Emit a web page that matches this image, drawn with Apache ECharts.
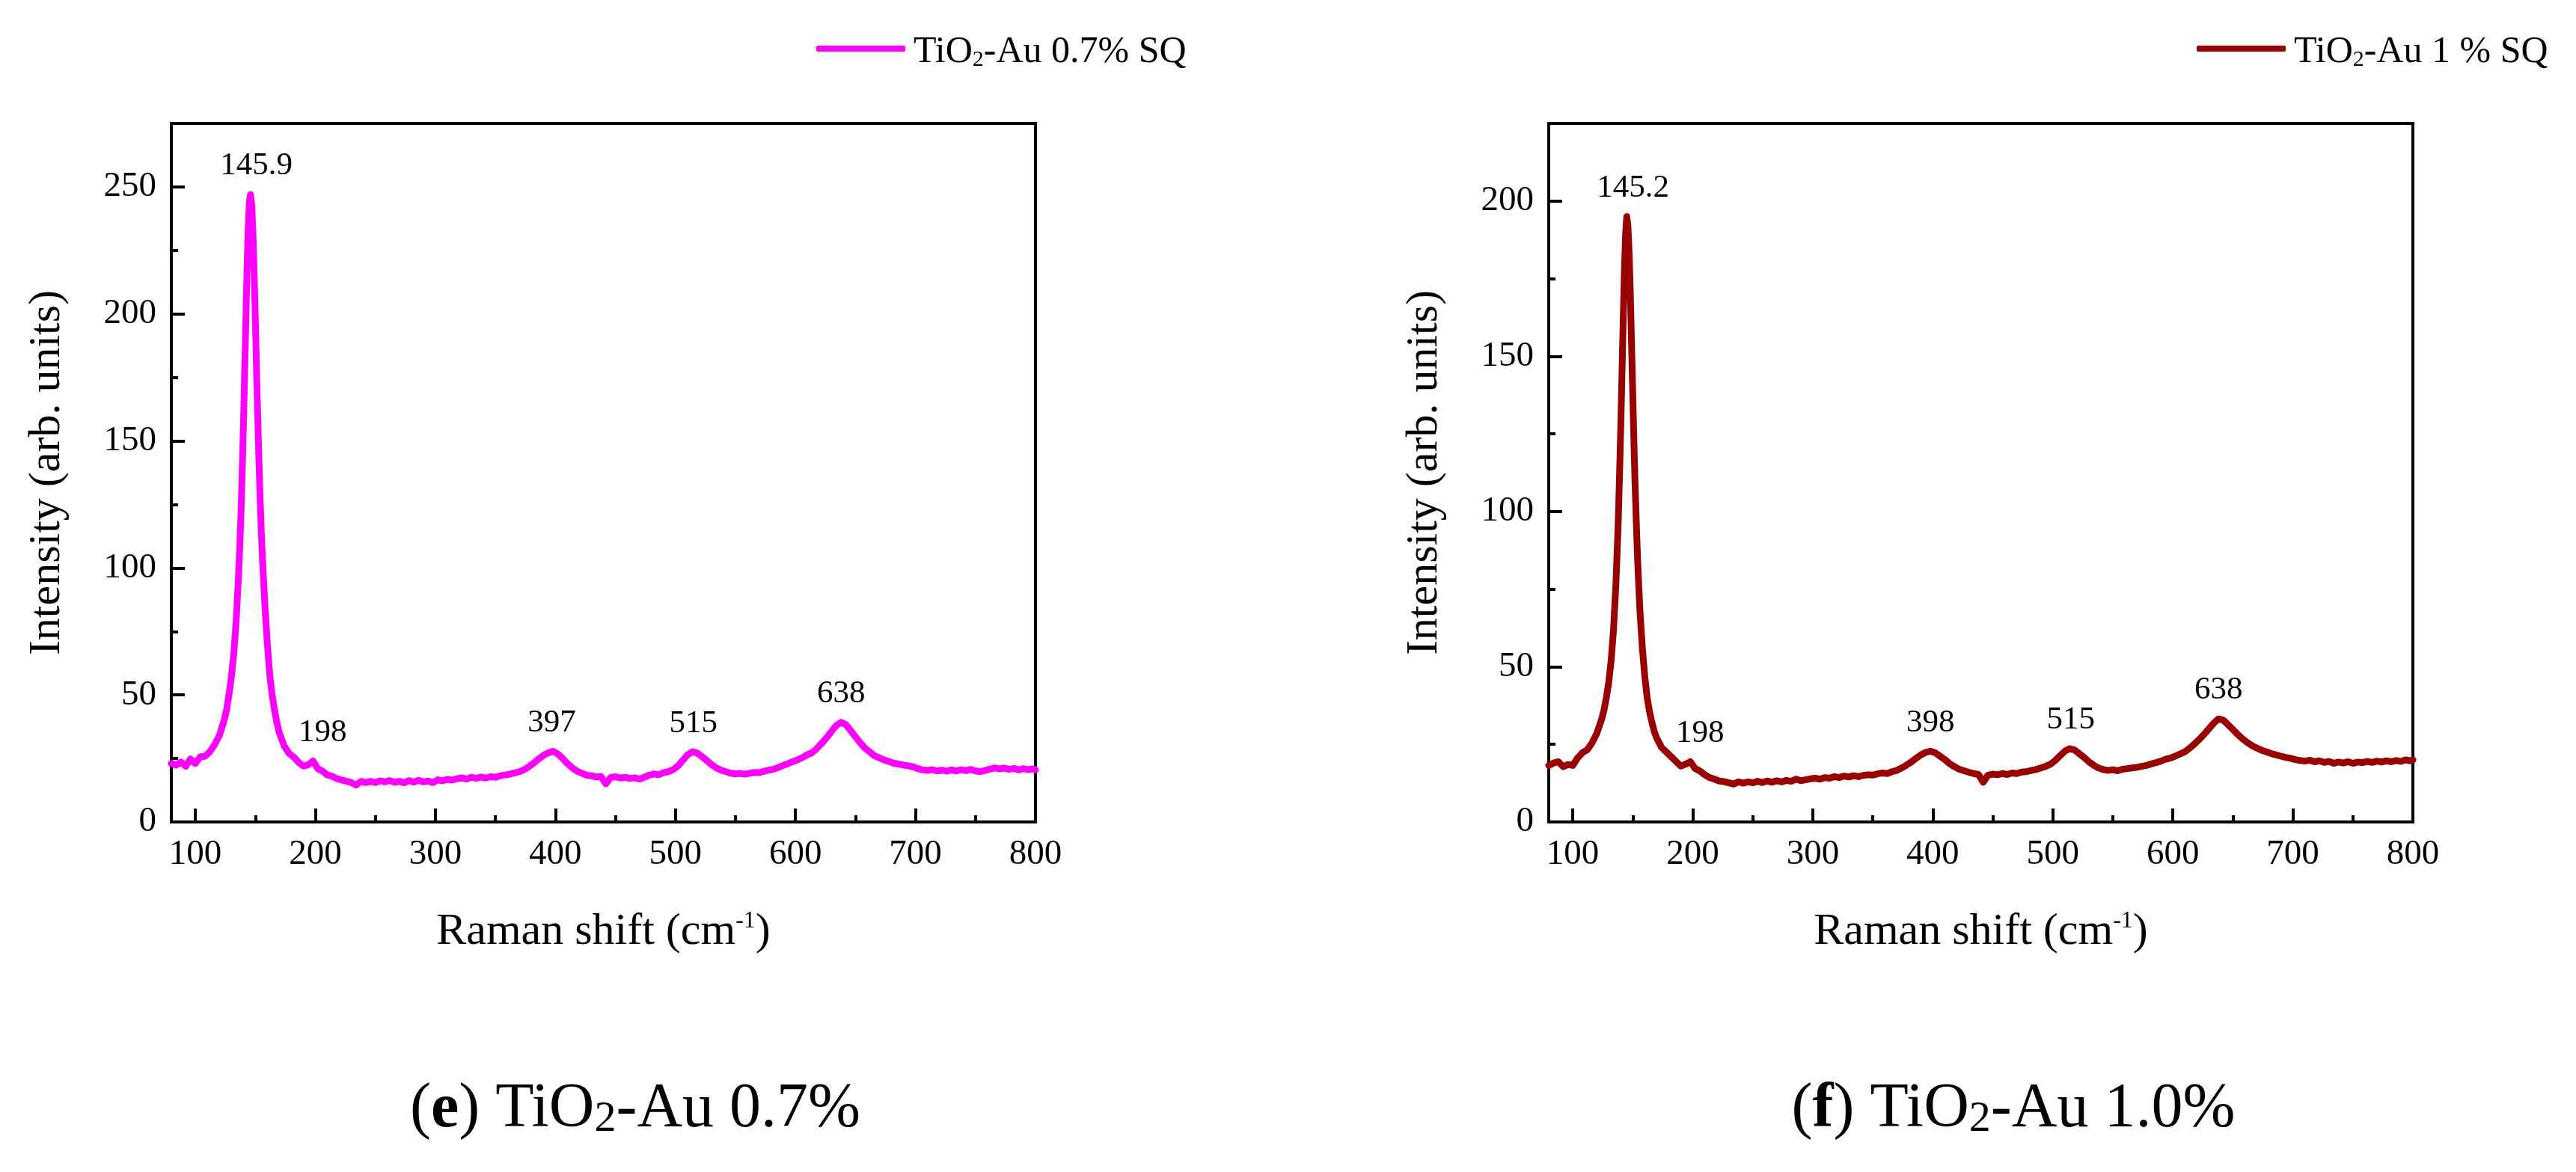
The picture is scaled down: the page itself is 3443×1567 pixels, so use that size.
<!DOCTYPE html>
<html>
<head>
<meta charset="utf-8">
<script src="https://cdn.jsdelivr.net/npm/echarts@6/dist/echarts.min.js"></script>
<style>html,body{margin:0;padding:0;background:#fff}#c{width:3443px;height:1567px}</style>
</head>
<body>
<div id="c"></div>
<script>
// Raman spectrum (e) TiO2-Au 0.7% SQ : [Raman shift, intensity]
const spectrumE = [
[80,23],[84,22.4],[88,23.6],[92,21.9],[96,24.8],[100,23],[104,25.6],[108,25.9],[112,27.6],[116,30.4],[120,34],[124,40],
[126,44],[128,50],[130,57],[132,66],[134,79],[136,97],[137,108],[138,121],[139,137],[140,155],[141,175],[142,196],[143,216],
[144,233],[145,244],[146,247],[147,243],[148,232],[149,216],[150,198],[151,178],[152,159],[153,142],[154,127],[155,114],
[156,103],[158,85],[160,70],[162,58],[164,50],[166,44],[168,39],[170,35],[174,30],[178,27],[182,25.5],[186,23.5],[190,22],
[194,22.5],[198,24],[202,21],[206,20],[210,18.5],[214,18],[218,17],[222,16.5],[226,16],[230,15.5],[234,14.5],[238,16],
[242,15.5],[246,16],[250,15.5],[254,16.2],[258,15.8],[262,16.3],[266,15.6],[270,16],[274,15.4],[278,16.3],[282,15.7],
[286,16.4],[290,15.8],[294,16.1],[298,15.5],[302,16.6],[306,16.2],[310,16.8],[314,16.5],[318,17],[322,17.4],[326,16.9],
[330,17.6],[334,17.2],[338,17.7],[342,17.3],[346,17.8],[350,17.6],[354,18.2],[358,18.5],[362,18.8],[366,19.3],[370,19.8],
[374,20.6],[378,21.8],[382,23.2],[386,24.8],[390,26.2],[394,27.2],[398,27.8],[402,26.8],[406,25],[410,23],[414,21.3],
[418,20],[422,19.2],[426,18.4],[430,18.2],[434,17.7],[438,17.9],[442,15],[446,17.5],[450,17.8],[454,17.3],[458,17.6],
[462,17.1],[466,17.4],[470,16.9],[474,17.6],[478,18.4],[482,18.9],[486,18.6],[490,19.4],[494,19.8],[498,20.6],[502,22],
[506,24.2],[510,26.4],[514,27.6],[518,27.2],[522,25.8],[526,24.2],[530,22.6],[534,21.3],[538,20.4],[542,19.8],[546,19.2],
[550,18.9],[554,19.1],[558,18.8],[562,19.2],[566,19.5],[570,19.4],[574,20],[578,20.4],[582,20.8],[586,21.5],[590,22.3],
[594,23],[598,23.8],[602,24.5],[606,25.4],[610,26.5],[614,27.3],[618,29],[622,31],[626,33.2],[630,35.6],[634,38],
[638,39.2],[642,38.3],[646,36],[650,33.5],[654,31.2],[658,29],[662,27.5],[666,26],[670,25.2],[674,24.4],[678,23.8],
[682,23.1],[686,22.8],[690,22.4],[694,22.1],[698,21.7],[702,21],[706,20.5],[710,20.3],[714,20.6],[718,20.1],[722,20.4],
[726,20],[730,20.5],[734,20.1],[738,20.6],[742,20.2],[746,20.7],[750,20.1],[754,19.8],[758,20.3],[762,20.8],[766,21.3],
[770,20.9],[774,21.2],[778,20.7],[782,21.1],[786,20.5],[790,21],[794,20.6],[798,20.9],[800,20.5]
];
// Raman spectrum (f) TiO2-Au 1 % SQ
const spectrumF = [
[80,18.2],[84,19],[88,19.4],[92,17.8],[96,18.5],[100,18.2],[104,20.6],[108,22.3],[112,23.2],[116,25.4],[120,28.5],[124,33],
[126,36],[128,40],[130,45],[132,52],[134,62],[136,77],[137,87],[138,98],[139,112],[140,127],[141,144],[142,161],[143,177],
[144,189],[145,195],[146,192],[147,183],[148,170],[149,154],[150,138],[151,122],[152,108],[153,96],[154,85],[155,76],
[156,68],[158,56],[160,47],[162,40],[164,35.5],[166,32],[168,29],[170,27],[174,24],[178,22.5],[182,21],[186,19.5],[190,18],
[194,18.6],[198,19.4],[202,17.2],[206,16.4],[210,15.2],[214,14.3],[218,13.8],[222,13.2],[226,13],[230,12.6],[234,12.2],
[238,12.9],[242,12.5],[246,12.9],[250,12.6],[254,13.1],[258,12.7],[262,13.2],[266,12.8],[270,13.3],[274,12.9],[278,13.4],
[282,13.1],[286,13.8],[290,13.3],[294,13.6],[298,13.9],[302,14.1],[306,13.8],[310,14.3],[314,14.1],[318,14.6],[322,14.3],
[326,14.8],[330,14.5],[334,14.9],[338,14.6],[342,15],[346,15.2],[350,15.1],[354,15.5],[358,15.8],[362,15.6],[366,16.2],
[370,16.6],[374,17.4],[378,18.3],[382,19.3],[386,20.5],[390,21.6],[394,22.4],[398,22.8],[402,22.3],[406,21.2],[410,20.1],
[414,18.8],[418,17.8],[422,17],[426,16.5],[430,16],[434,15.6],[438,15.3],[442,12.8],[446,15.1],[450,15.4],[454,15.2],
[458,15.6],[462,15.3],[466,15.8],[470,15.6],[474,16.1],[478,16.2],[482,16.6],[486,16.9],[490,17.4],[494,17.9],[498,18.6],
[502,19.8],[506,21.3],[510,22.8],[514,23.6],[518,23.2],[522,22],[526,20.8],[530,19.4],[534,18.3],[538,17.4],[542,16.9],
[546,16.6],[550,16.8],[554,16.5],[558,17],[562,17.2],[566,17.4],[570,17.6],[574,17.9],[578,18.2],[582,18.7],[586,19.1],
[590,19.6],[594,20.2],[598,20.6],[602,21.2],[606,21.9],[610,22.6],[614,23.8],[618,25.1],[622,26.6],[626,28.2],[630,30],
[634,31.8],[638,33.2],[642,32.8],[646,31.3],[650,29.8],[654,28.2],[658,26.8],[662,25.6],[666,24.6],[670,23.8],[674,23.1],
[678,22.6],[682,22],[686,21.6],[690,21.2],[694,20.8],[698,20.5],[702,20.1],[706,19.8],[710,19.6],[714,19.9],[718,19.4],
[722,19.7],[726,19.2],[730,19.5],[734,18.9],[738,19.3],[742,19],[746,19.4],[750,18.9],[754,19.3],[758,19.1],[762,19.5],
[766,19.2],[770,19.6],[774,19.3],[778,19.7],[782,19.4],[786,19.8],[790,19.5],[794,20],[798,19.7],[800,20]
];
const peaksE = [145.9, 198, 397, 515, 638];
const peakTextE = ['145.9', '198', '397', '515', '638'];
const peaksF = [145.2, 198, 398, 515, 638];
const peakTextF = ['145.2', '198', '398', '515', '638'];
const xTicks = [100, 200, 300, 400, 500, 600, 700, 800];
const xMinorTicks = [150, 250, 350, 450, 550, 650, 750];
const yTicksE = [0, 50, 100, 150, 200, 250];
const yMinorE = [25, 75, 125, 175, 225];
const yTicksF = [0, 50, 100, 150, 200];
const yMinorF = [25, 75, 125, 175];
const nameE = 'TiO2-Au 0.7% SQ';
const nameF = 'TiO2-Au 1 % SQ';

const FONT = 'Liberation Serif';
const BLACK = '#000';

function peakPoints(spec, peaks) {
  return peaks.map(function (px) {
    let best = -Infinity;
    spec.forEach(function (d) { if (Math.abs(d[0] - px) <= 3 && d[1] > best) best = d[1]; });
    return [px, best];
  });
}

function xAxes(gi) {
  return [{
    gridIndex: gi, type: 'value', min: 80, max: 800, position: 'bottom',
    axisLine: { show: true, lineStyle: { color: BLACK, width: 4 } },
    axisTick: { show: true, inside: true, length: 18, lineStyle: { color: BLACK, width: 4 }, customValues: xTicks },
    axisLabel: { show: true, customValues: xTicks, fontSize: 47, fontFamily: FONT, color: BLACK, margin: 20 },
    splitLine: { show: false },
    name: '{a|Raman shift (cm}{s|-1}{a|)}',
    nameLocation: 'middle', nameGap: 117,
    nameTextStyle: {
      fontFamily: FONT, fontSize: 60, color: BLACK,
      rich: {
        a: { fontFamily: FONT, fontSize: 60, color: BLACK, lineHeight: 70, verticalAlign: 'top' },
        s: { fontFamily: FONT, fontSize: 32, color: BLACK, lineHeight: 46, verticalAlign: 'top' }
      }
    }
  }, {
    gridIndex: gi, type: 'value', min: 80, max: 800, position: 'bottom',
    axisLine: { show: false },
    axisTick: { show: true, inside: true, length: 9, lineStyle: { color: BLACK, width: 4 }, customValues: xMinorTicks },
    axisLabel: { show: false },
    splitLine: { show: false }
  }];
}

function yAxes(gi, yMax, ticks, minors) {
  return [{
    gridIndex: gi, type: 'value', min: 0, max: yMax, position: 'left',
    axisLine: { show: true, lineStyle: { color: BLACK, width: 4 } },
    axisTick: { show: true, inside: true, length: 18, lineStyle: { color: BLACK, width: 4 }, customValues: ticks },
    axisLabel: { show: true, customValues: ticks, fontSize: 47, fontFamily: FONT, color: BLACK, margin: 20 },
    splitLine: { show: false },
    name: 'Intensity (arb. units)',
    nameLocation: 'middle', nameGap: 136, nameRotate: 90,
    nameTextStyle: { fontFamily: FONT, fontSize: 60, color: BLACK }
  }, {
    gridIndex: gi, type: 'value', min: 0, max: yMax, position: 'left',
    axisLine: { show: false },
    axisTick: { show: true, inside: true, length: 9, lineStyle: { color: BLACK, width: 4 }, customValues: minors },
    axisLabel: { show: false },
    splitLine: { show: false }
  }];
}

function lineSeries(name, data, color, axisIdx) {
  return {
    type: 'line', name: name, data: data, xAxisIndex: axisIdx, yAxisIndex: axisIdx,
    symbol: 'none', showSymbol: false, smooth: false, animation: false, z: 3,
    lineStyle: { width: 9, color: color, cap: 'round', join: 'round' },
    itemStyle: { color: color }
  };
}

function labelSeries(spec, peaks, texts, axisIdx) {
  const nudge = { '145.9': 8, '145.2': 8, '198': 13 };
  const labelStyle = { show: true, position: 'top', distance: 16, fontFamily: FONT, fontSize: 43, color: BLACK, opacity: 1 };
  return {
    type: 'scatter', xAxisIndex: axisIdx, yAxisIndex: axisIdx, silent: true, animation: false, z: 4,
    symbolSize: 1, itemStyle: { color: 'rgba(255,255,255,0)' },
    data: peakPoints(spec, peaks).map(function (p, i) {
      return { value: p, label: Object.assign({}, labelStyle, { offset: [nudge[texts[i]] || 0, 0] }) };
    }),
    label: Object.assign({}, labelStyle, {
      formatter: function (p) { return texts[p.dataIndex]; }
    })
  };
}

function legendFor(name, left, color) {
  const rest = name.replace('TiO2', '');
  return {
    data: [name], left: left, top: 40, orient: 'horizontal',
    icon: 'roundRect', itemWidth: 119, itemHeight: 8, selectedMode: false,
    itemStyle: { color: color, borderWidth: 0 },
    formatter: function () { return '{n|TiO}{s|2}{n|' + rest + '}'; },
    textStyle: {
      fontFamily: FONT, fontSize: 50, color: BLACK, padding: [0, 0, 0, 6],
      rich: {
        n: { fontFamily: FONT, fontSize: 50, color: BLACK, lineHeight: 60, verticalAlign: 'bottom' },
        s: { fontFamily: FONT, fontSize: 30, color: BLACK, lineHeight: 18, verticalAlign: 'bottom' }
      }
    }
  };
}

function caption(letter, rest, cx) {
  return {
    type: 'text', x: cx, y: 1526, silent: true,
    style: {
      text: '{n|(}{b|' + letter + '}{n|) TiO}{s|2}{n|' + rest + '}',
      align: 'center', textAlign: 'center', verticalAlign: 'bottom', textVerticalAlign: 'bottom',
      fill: BLACK,
      rich: {
        n: { fontFamily: FONT, fontSize: 84, fill: BLACK, color: BLACK, lineHeight: 100, verticalAlign: 'bottom' },
        b: { fontFamily: FONT, fontSize: 84, fontWeight: 'bold', fill: BLACK, color: BLACK, lineHeight: 100, verticalAlign: 'bottom' },
        s: { fontFamily: FONT, fontSize: 58, fill: BLACK, color: BLACK, lineHeight: 82, verticalAlign: 'bottom' }
      }
    }
  };
}

const chart = echarts.init(document.getElementById('c'), null, { renderer: 'canvas' });
chart.setOption({
  backgroundColor: '#fff',
  animation: false,
  grid: [
    { left: 229, top: 165, width: 1155, height: 934, show: true, borderColor: BLACK, borderWidth: 4, backgroundColor: 'transparent', containLabel: false, outerBoundsMode: 'none' },
    { left: 2070, top: 165, width: 1155, height: 934, show: true, borderColor: BLACK, borderWidth: 4, backgroundColor: 'transparent', containLabel: false, outerBoundsMode: 'none' }
  ],
  xAxis: xAxes(0).concat(xAxes(1)),
  yAxis: yAxes(0, 275, yTicksE, yMinorE).concat(yAxes(1, 225, yTicksF, yMinorF)),
  legend: [legendFor(nameE, 1086, '#FF00FF'), legendFor(nameF, 2931, '#990000')],
  series: [
    lineSeries(nameE, spectrumE, '#FF00FF', 0),
    labelSeries(spectrumE, peaksE, peakTextE, 0),
    lineSeries(nameF, spectrumF, '#990000', 2),
    labelSeries(spectrumF, peaksF, peakTextF, 2)
  ],
  graphic: [caption('e', '-Au 0.7%', 849), caption('f', '-Au 1.0%', 2691)]
});
</script>
</body>
</html>
